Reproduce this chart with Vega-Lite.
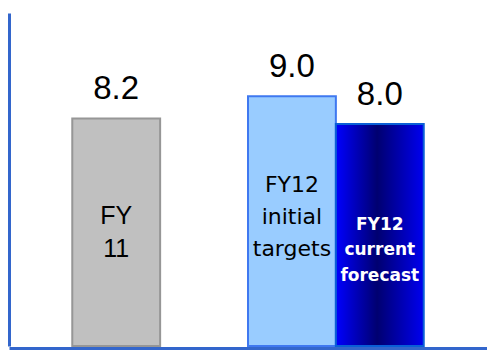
{
  "$schema": "https://vega.github.io/schema/vega-lite/v6.json",
  "width": 478,
  "height": 333,
  "autosize": {"type": "none"},
  "padding": {"left": 9, "top": 13, "right": 0, "bottom": 4},
  "background": "white",
  "config": {"view": {"stroke": null}},
  "data": {
    "values": [
      {"cat": "FY11", "value": 8.2, "label": "FY\n11"},
      {"cat": "FY12 initial", "value": 9.0, "label": "FY12\ninitial\ntargets"},
      {"cat": "FY12 current", "value": 8.0, "label": "FY12\ncurrent\nforecast"}
    ]
  },
  "encoding": {
    "x": {
      "field": "cat",
      "type": "nominal",
      "sort": null,
      "scale": {"domain": ["FY11", "gap", "FY12 initial", "FY12 current"], "paddingInner": 0, "paddingOuter": 0.72},
      "axis": {"labels": false, "ticks": false, "title": null, "grid": false, "domainColor": "#3366CC", "domainWidth": 3, "offset": 2}
    }
  },
  "layer": [
    {
      "transform": [{"filter": "datum.cat === 'FY11'"}],
      "mark": {"type": "bar", "color": "#C0C0C0", "stroke": "#969696", "strokeWidth": 2},
      "encoding": {
        "y": {"field": "value", "type": "quantitative", "scale": {"domain": [0, 12]},
          "axis": {"labels": false, "ticks": false, "title": null, "grid": false, "domainColor": "#3366CC", "domainWidth": 3}}
      }
    },
    {
      "transform": [{"filter": "datum.cat === 'FY12 initial'"}],
      "mark": {"type": "bar", "color": "#99CCFF", "stroke": "#3F78F0", "strokeWidth": 2},
      "encoding": {"y": {"field": "value", "type": "quantitative"}}
    },
    {
      "transform": [{"filter": "datum.cat === 'FY12 current'"}],
      "mark": {"type": "bar", "stroke": "#0A5FD6", "strokeWidth": 2,
        "color": {"gradient": "linear", "x1": 0, "x2": 1, "y1": 0, "y2": 0,
          "stops": [{"offset": 0, "color": "#0000FF"}, {"offset": 0.47, "color": "#000070"}, {"offset": 1, "color": "#0000F0"}]}},
      "encoding": {"y": {"field": "value", "type": "quantitative"}}
    },
    {
      "mark": {"type": "text", "font": "Liberation Sans", "fontSize": 33, "baseline": "alphabetic", "dy": -19, "color": "black"},
      "encoding": {
        "y": {"field": "value", "type": "quantitative"},
        "text": {"field": "value", "type": "quantitative", "format": ".1f"}
      }
    },
    {
      "transform": [{"filter": "datum.cat === 'FY11'"}],
      "mark": {"type": "text", "font": "Liberation Sans", "fontSize": 25, "baseline": "middle", "lineBreak": "\n", "lineHeight": 33, "color": "black"},
      "encoding": {"y": {"datum": 4.67, "type": "quantitative"}, "text": {"field": "label"}}
    },
    {
      "transform": [{"filter": "datum.cat === 'FY12 initial'"}],
      "mark": {"type": "text", "font": "DejaVu Sans", "fontSize": 22, "baseline": "middle", "lineBreak": "\n", "lineHeight": 32, "color": "black"},
      "encoding": {"y": {"datum": 5.8, "type": "quantitative"}, "text": {"field": "label"}}
    },
    {
      "transform": [{"filter": "datum.cat === 'FY12 current'"}],
      "mark": {"type": "text", "font": "DejaVu Sans", "fontSize": 17, "fontWeight": "bold", "baseline": "middle", "lineBreak": "\n", "lineHeight": 25.5, "color": "white"},
      "encoding": {"y": {"datum": 4.37, "type": "quantitative"}, "text": {"field": "label"}}
    }
  ]
}
